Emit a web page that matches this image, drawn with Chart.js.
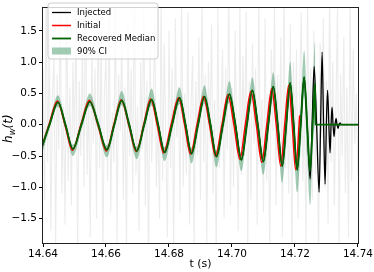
<!DOCTYPE html>
<html><head><meta charset="utf-8">
<script src="https://cdn.jsdelivr.net/npm/chart.js@4.4.1/dist/chart.umd.min.js"></script>
<style>html,body{margin:0;padding:0;background:#fff;}#wrap{width:374px;height:272px;}</style>
</head><body><div id="wrap"><canvas id="c" width="374" height="272"></canvas></div>
<script>
// ---- data ----
const xTicks = [14.64, 14.66, 14.68, 14.70, 14.72, 14.74];
const yTicks = [-1.5, -1.0, -0.5, 0.0, 0.5, 1.0, 1.5];

// Recovered median (also the time grid of the 90% CI band)
const medT = [14.63949,14.64206,14.64475,14.64712,14.64949,14.65218,14.65487,14.65756,14.66025,14.66263,
  14.66500,14.66737,14.66975,14.67212,14.67449,14.67655,14.67861,14.68098,14.68336,14.68525,
  14.68715,14.68921,14.69127,14.69317,14.69506,14.69712,14.69918,14.70108,14.70298,14.70472,
  14.70646,14.70820,14.70994,14.71152,14.71310,14.71453,14.71595,14.71722,14.71848,14.71959,
  14.72070,14.72181,14.72291,14.72386,14.72481,14.72560,14.72639,14.72649,14.74500];
const medV = [-0.38,0,0.36,0,-0.39,0,0.37,0,-0.40,0,
  0.39,0,-0.42,0,0.40,0,-0.44,0,0.43,0,
  -0.46,0,0.45,0,-0.51,0,0.49,0,-0.56,0,
  0.55,0,-0.59,0,0.61,0,-0.66,0,0.67,0,
  -0.72,0,0.76,0,-0.73,0,0.66,0,0];
const ciUp = [-0.30,0.07,0.47,0.07,-0.32,0.07,0.50,0.08,-0.33,0.08,
  0.54,0.08,-0.35,0.09,0.58,0.09,-0.36,0.10,0.60,0.10,
  -0.37,0.11,0.63,0.11,-0.41,0.12,0.70,0.12,-0.45,0.13,
  0.76,0.14,-0.47,0.15,0.84,0.17,-0.52,0.20,1.01,0.24,
  -0.55,0.30,1.19,0.35,-0.50,0.50,1.33,0,0];
const ciLo = [-0.50,-0.07,0.29,-0.07,-0.50,-0.08,0.30,-0.08,-0.52,-0.08,
  0.31,-0.09,-0.55,-0.09,0.31,-0.10,-0.58,-0.10,0.33,-0.11,
  -0.62,-0.11,0.34,-0.12,-0.68,-0.13,0.36,-0.14,-0.74,-0.15,
  0.40,-0.16,-0.80,-0.18,0.43,-0.22,-0.93,-0.26,0.45,-0.32,
  -1.08,-0.38,0.45,-0.50,-1.28,-0.40,0.0,0,0];

// Initial waveform
const initT = [14.63937,14.64190,14.64459,14.64696,14.64934,14.65203,14.65472,14.65741,14.66010,14.66247,
  14.66484,14.66722,14.66959,14.67196,14.67418,14.67624,14.67829,14.68067,14.68304,14.68494,
  14.68684,14.68889,14.69095,14.69285,14.69475,14.69681,14.69870,14.70060,14.70250,14.70424,
  14.70598,14.70772,14.70946,14.71105,14.71263,14.71405,14.71548,14.71674,14.71801,14.71912,
  14.72022,14.72149];
const initV = [-0.40,0,0.38,0,-0.41,0,0.39,0,-0.42,0,
  0.40,0,-0.43,0,0.41,0,-0.45,0,0.43,0,
  -0.47,0,0.45,0,-0.50,0,0.48,0,-0.55,0,
  0.53,0,-0.60,0,0.58,0,-0.66,0,0.63,0,
  -0.72,0.15];

// Injected waveform
const injT = [14.63949,14.64206,14.64475,14.64712,14.64949,14.65218,14.65487,14.65756,14.66025,14.66263,
  14.66500,14.66737,14.66975,14.67212,14.67449,14.67655,14.67861,14.68098,14.68336,14.68525,
  14.68715,14.68921,14.69127,14.69317,14.69506,14.69712,14.69918,14.70108,14.70298,14.70472,
  14.70646,14.70820,14.70994,14.71152,14.71310,14.71453,14.71595,14.71722,14.71848,14.71959,
  14.72070,14.72181,14.72291,14.72386,14.72481,14.72544,14.72608,14.72687,14.72766,14.72813,
  14.72861,14.72908,14.72956,14.72997,14.73035,14.73076,14.73114,14.73146,14.73177,14.73209,
  14.73241,14.73272,14.73304,14.73335,14.73367,14.73399,14.73430,14.73462,14.74500];
const injV = [-0.38,0,0.36,0,-0.39,0,0.37,0,-0.40,0,
  0.39,0,-0.42,0,0.40,0,-0.44,0,0.43,0,
  -0.46,0,0.45,0,-0.51,0,0.49,0,-0.56,0,
  0.55,0,-0.59,0,0.61,0,-0.66,0,0.67,0,
  -0.72,0,0.76,0,-0.87,0,0.93,0,-1.08,0,
  1.16,0,-0.95,0,0.55,0,-0.45,0,0.28,0,
  -0.19,0,0.10,0,-0.06,0,0.03,0,0];

// Whitened data (grey), sampled every noiseDt from noiseT0
const noiseT0 = 14.64, noiseDt = 0.0005;
const noiseV = [0.9,-1.2,2.1,-0.6,1.4,-1.7,0.5,1.1,-2.0,0.8,-0.4,1.9,-1.1,0.3,-1.6,2.2,-0.9,0.6,-1.3,1.0,
  -0.2,1.7,-2.1,0.7,-0.5,1.3,-1.0,2.3,-0.8,0.4,-1.8,1.2,-0.3,0.9,-1.5,2.0,-0.7,1.5,-2.2,0.5,
  1.1,-0.9,1.8,-1.4,0.2,-0.6,2.1,-1.9,0.8,-0.1,1.4,-1.2,0.6,-2.0,1.6,-0.5,0.9,-1.1,2.4,-0.8,
  0.3,-1.7,1.0,-0.4,1.9,-1.3,0.7,-2.3,1.2,-0.6,0.4,1.6,-1.0,0.2,-1.5,2.0,-0.9,1.3,-0.3,-1.8,
  1.5,-0.7,0.9,-2.1,1.7,-0.2,0.6,-1.4,2.2,-1.0,0.5,-0.8,1.8,-1.6,0.3,1.1,-2.0,0.7,-0.5,1.4,
  -1.2,2.1,-0.6,0.8,-1.9,1.0,-0.3,1.6,-1.1,0.4,-2.2,1.9,-0.7,0.2,1.2,-1.5,0.9,-0.4,2.3,-1.3,
  0.6,-1.0,1.5,-0.2,-1.7,2.0,-0.8,1.1,-0.5,1.8,-2.0,0.7,-1.2,1.3,-0.3,0.9,-1.6,2.1,-0.6,0.4,
  -1.4,1.7,-0.9,0.5,-2.1,1.2,-0.1,1.9,-1.3,0.8,-0.6,1.4,-1.8,2.2,-0.7,0.3,-1.1,1.6,-2.3,1.0,
  -0.4,1.2,-1.5,0.6,1.8,-0.9,0.2,-1.9,2.0,-0.5,0.9,-1.2,1.5,-0.8,0.4,-2.1,1.3,-0.2,1.7,-1.0,
  0.7,-1.6,2.2,-0.6,1.0,-1.3,0.3,1.9,-2.0,0.8,-0.5,1.4,-1.1,0.6,-1.8,2.1,-0.9,1.2,-0.3,0.5,
  -0.8];

const legendOrder = ['Injected','Initial','Recovered Median','90% CI'];

// ---- build ----
const xy = (ts, vs) => ts.map((t, i) => ({x: t, y: vs[i]}));
const noiseData = noiseV.map((v, i) => ({x: noiseT0 + i * noiseDt, y: v}));
const GREEN = '#006400', CIFILL = 'rgba(46,139,87,0.45)';

Chart.defaults.font.family = "'DejaVu Sans', sans-serif";
Chart.defaults.color = '#000';

const framePlugin = {
  id: 'frame',
  afterDatasetsDraw(chart) {
    const {ctx, chartArea: a} = chart;
    ctx.save();
    ctx.strokeStyle = '#222';
    ctx.lineWidth = 1;
    ctx.strokeRect(Math.round(a.left) - 0.5, Math.round(a.top) - 0.5,
      Math.round(a.right - a.left) + 1, Math.round(a.bottom - a.top) + 1);
    ctx.restore();
  }
};

const legendPlugin = {
  id: 'mplLegend',
  afterDraw(chart) {
    const ctx = chart.ctx;
    const bx = 48, by = 3, bw = 110, bh = 56, r = 3;
    ctx.save();
    ctx.beginPath();
    ctx.moveTo(bx + r, by);
    ctx.arcTo(bx + bw, by, bx + bw, by + bh, r);
    ctx.arcTo(bx + bw, by + bh, bx, by + bh, r);
    ctx.arcTo(bx, by + bh, bx, by, r);
    ctx.arcTo(bx, by, bx + bw, by, r);
    ctx.closePath();
    ctx.fillStyle = 'rgba(255,255,255,0.8)';
    ctx.fill();
    ctx.strokeStyle = '#cccccc';
    ctx.lineWidth = 1;
    ctx.stroke();
    const rows = [12, 25, 38, 51];
    ctx.font = "8.5px 'DejaVu Sans'";
    ctx.textBaseline = 'middle';
    ctx.textAlign = 'left';
    legendOrder.forEach((lab, i) => {
      const ds = chart.data.datasets.find(d => d.label === lab);
      const y = rows[i];
      if (ds.fill) {
        ctx.fillStyle = ds.backgroundColor;
        ctx.fillRect(52, y - 3.5, 19, 7);
      } else {
        ctx.strokeStyle = ds.borderColor;
        ctx.lineWidth = ds.borderWidth;
        ctx.beginPath();
        ctx.moveTo(52, y + 0.5);
        ctx.lineTo(71, y + 0.5);
        ctx.stroke();
      }
      ctx.fillStyle = '#000';
      ctx.fillText(lab, 77, y + 0.5);
    });
    ctx.restore();
  }
};

const ylabelPlugin = {
  id: 'ylab',
  afterDraw(chart) {
    const ctx = chart.ctx;
    const a = chart.chartArea;
    ctx.save();
    ctx.translate(8, (a.top + a.bottom) / 2 + 3);
    ctx.rotate(-Math.PI / 2);
    ctx.fillStyle = '#000';
    ctx.textBaseline = 'alphabetic';
    const big = "italic 12px 'DejaVu Sans'", small = "italic 8.5px 'DejaVu Sans'";
    ctx.font = big; const w1 = ctx.measureText('h').width;
    ctx.font = small; const w2 = ctx.measureText('w').width;
    ctx.font = big; const w3 = ctx.measureText('(t)').width;
    let x = -(w1 + w2 + w3) / 2;
    const base = 4;
    ctx.font = big; ctx.fillText('h', x, base); x += w1;
    ctx.font = small; ctx.fillText('w', x, base + 2.5); x += w2;
    ctx.font = big; ctx.fillText('(t)', x, base);
    ctx.restore();
  }
};

const lineBase = {pointRadius: 0, pointHoverRadius: 0, cubicInterpolationMode: 'monotone', fill: false};

new Chart(document.getElementById('c'), {
  type: 'line',
  data: {datasets: [
    Object.assign({label: 'Recovered Median', data: xy(medT, medV), borderColor: GREEN, borderWidth: 1.8}, lineBase),
    Object.assign({label: 'Initial', data: xy(initT, initV), borderColor: '#ff0000', borderWidth: 1.5}, lineBase),
    Object.assign({label: 'Injected', data: xy(injT, injV), borderColor: '#000000', borderWidth: 1.3}, lineBase),
    Object.assign({}, lineBase, {label: '90% CI', data: xy(medT, ciUp), borderColor: 'rgba(0,0,0,0)', borderWidth: 0, backgroundColor: CIFILL, fill: '+1'}),
    Object.assign({}, lineBase, {label: 'CI lower', data: xy(medT, ciLo), borderColor: 'rgba(0,0,0,0)', borderWidth: 0}),
    {label: 'Data', data: noiseData, borderColor: 'rgba(150,150,150,0.18)', borderWidth: 1.1, pointRadius: 0, tension: 0, fill: false, clip: 0}
  ]},
  options: {
    responsive: false, animation: false, events: [],
    layout: {padding: {left: 0, right: 15, top: 1, bottom: 0}},
    plugins: {legend: {display: false}, tooltip: {enabled: false}},
    scales: {
      x: {
        type: 'linear', min: 14.64, max: 14.74,
        grid: {drawOnChartArea: false, drawTicks: true, tickLength: 4, tickColor: '#000', tickWidth: 1},
        border: {display: false},
        ticks: {font: {size: 10.5}, padding: 1, maxRotation: 0, autoSkip: false, color: '#000',
          callback: v => Number(v).toFixed(2)},
        afterBuildTicks: s => { s.ticks = xTicks.map(v => ({value: v})); },
        afterFit: s => { s.height = 29; },
        title: {display: true, text: 't (s)', font: {size: 11}, color: '#000', padding: {top: 0, bottom: 1}}
      },
      y: {
        type: 'linear', min: -1.89, max: 1.86,
        grid: {drawOnChartArea: false, drawTicks: true, tickLength: 4, tickColor: '#000', tickWidth: 1},
        border: {display: false},
        ticks: {font: {size: 10.5}, padding: 2, color: '#000',
          callback: v => Number(v).toFixed(1).replace('-', '\u2212')},
        afterBuildTicks: s => { s.ticks = yTicks.map(v => ({value: v})); },
        afterFit: s => { s.width = 43; }
      }
    }
  },
  plugins: [framePlugin, legendPlugin, ylabelPlugin]
});
</script></body></html>
